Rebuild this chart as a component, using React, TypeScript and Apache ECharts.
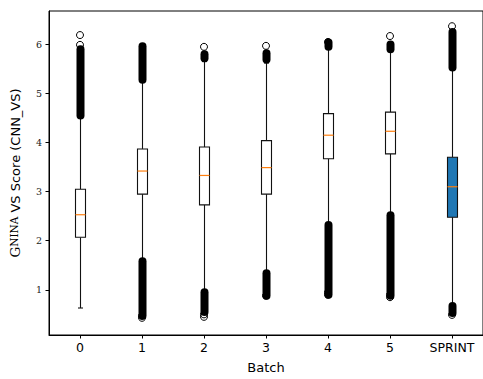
import React, { useEffect, useRef } from 'react';
import * as echarts from 'echarts';

// Categories (batches)
const categories = ['0', '1', '2', '3', '4', '5', 'SPRINT'];

// Box statistics
const whiskerLow = [0.63, 1.6, 0.98, 1.38, 2.37, 2.55, 0.7];
const quartile1 = [2.07, 2.95, 2.73, 2.95, 3.67, 3.77, 2.48];
const medians = [2.53, 3.42, 3.33, 3.49, 4.15, 4.23, 3.1];
const quartile3 = [3.05, 3.87, 3.91, 4.04, 4.59, 4.62, 3.7];
const whiskerHigh = [4.5, 5.25, 5.65, 5.62, 5.93, 5.88, 5.5];

// Dense runs of outliers (too many to tell apart): [from, to] per category, null when none
const denseLowOutliers: ([number, number] | null)[] = [
  null, [0.47, 1.58], [0.55, 0.95], [0.88, 1.34], [0.9, 2.32], [0.88, 2.52], [0.53, 0.67],
];
const denseHighOutliers: ([number, number] | null)[] = [
  [4.55, 5.9], [5.28, 5.96], [5.72, 5.8], [5.69, 5.82], [5.95, 6.04], [5.9, 6.0], [5.53, 6.25],
];

// Individually visible outliers: [category index, value]
const singleOutliers: [number, number][] = [
  [0, 6.19], [0, 5.99],
  [1, 0.43], [1, 0.47],
  [2, 5.95], [2, 0.5], [2, 0.45],
  [3, 5.97], [3, 0.88],
  [4, 6.05], [4, 0.9], [4, 0.95],
  [5, 6.17], [5, 0.85], [5, 0.9],
  [6, 6.37], [6, 0.49],
];

const yTicks = [1, 2, 3, 4, 5, 6];

export default function App() {
  const ref = useRef<HTMLDivElement>(null);

  useEffect(() => {
    if (!ref.current) return;
    const chart = echarts.init(ref.current, null, { renderer: 'svg' });

    const boxData = categories.map((_, i) => [
      i, whiskerLow[i], quartile1[i], medians[i], quartile3[i], whiskerHigh[i],
    ]);
    const denseData: number[][] = [];
    categories.forEach((_, i) => {
      const lo = denseLowOutliers[i];
      const hi = denseHighOutliers[i];
      if (lo) denseData.push([i, lo[0], lo[1]]);
      if (hi) denseData.push([i, hi[0], hi[1]]);
    });

    const snap = (v: number) => Math.round(v - 0.5) + 0.5;

    const renderBox = (params: any, api: any) => {
      const i = api.value(0);
      const lo = api.coord([i, api.value(1)]);
      const b1 = api.coord([i, api.value(2)]);
      const md = api.coord([i, api.value(3)]);
      const b3 = api.coord([i, api.value(4)]);
      const hi = api.coord([i, api.value(5)]);
      const band = api.size([1, 0])[0];
      const w = Math.round(band * 0.16);
      const cw = w / 2;
      const x = snap(lo[0]);
      const fill = categories[i] === 'SPRINT' ? '#1f77b4' : '#ffffff';
      const ls = { stroke: '#111', lineWidth: 1.1, fill: null };
      return {
        type: 'group',
        children: [
          { type: 'line', shape: { x1: x, y1: lo[1], x2: x, y2: b1[1] }, style: ls },
          { type: 'line', shape: { x1: x, y1: b3[1], x2: x, y2: hi[1] }, style: ls },
          { type: 'line', shape: { x1: x - cw / 2, y1: lo[1], x2: x + cw / 2, y2: lo[1] }, style: ls },
          { type: 'line', shape: { x1: x - cw / 2, y1: hi[1], x2: x + cw / 2, y2: hi[1] }, style: ls },
          {
            type: 'rect',
            shape: { x: x - cw, y: b3[1], width: w, height: b1[1] - b3[1] },
            style: { fill, stroke: '#111', lineWidth: 1.1 },
          },
          {
            type: 'line',
            shape: { x1: x - cw, y1: md[1], x2: x + cw, y2: md[1] },
            style: { stroke: '#ff7f0e', lineWidth: 1.2 },
          },
        ],
      };
    };

    const renderDense = (params: any, api: any) => {
      const i = api.value(0);
      const a = api.coord([i, api.value(1)]);
      const b = api.coord([i, api.value(2)]);
      const r = 4;
      const x = snap(a[0]);
      return {
        type: 'rect',
        shape: { x: x - r, y: b[1] - r, width: 2 * r, height: a[1] - b[1] + 2 * r, r },
        style: { fill: '#000' },
      };
    };

    chart.setOption({
      animation: false,
      grid: {
        left: 48, right: -4, top: 11, bottom: 40,
        show: true, borderColor: '#000', borderWidth: 1, backgroundColor: 'transparent',
      },
      xAxis: {
        type: 'category',
        data: categories,
        boundaryGap: true,
        name: 'Batch',
        nameLocation: 'middle',
        nameGap: 26,
        nameTextStyle: { fontFamily: 'DejaVu Sans', fontSize: 13, color: '#000' },
        axisLine: { show: true, lineStyle: { color: '#000', width: 1 } },
        axisTick: { show: true, alignWithLabel: true, length: 3.5, lineStyle: { color: '#000' } },
        axisLabel: { margin: 6, fontFamily: 'DejaVu Sans', fontSize: 12.5, color: '#000' },
        splitLine: { show: false },
      },
      yAxis: {
        type: 'value',
        min: 0.08,
        max: 6.68,
        name: '{g|G}{s|NINA}{t| VS Score (CNN_VS)}',
        nameLocation: 'middle',
        nameGap: 27,
        nameRotate: 90,
        nameTextStyle: {
          color: '#000',
          fontFamily: 'DejaVu Sans',
          fontSize: 13,
          rich: {
            g: { fontFamily: 'DejaVu Serif', fontSize: 13.5, color: '#000', verticalAlign: 'bottom', lineHeight: 16 },
            s: { fontFamily: 'DejaVu Serif', fontSize: 10.5, color: '#000', verticalAlign: 'bottom', lineHeight: 16, padding: [0, 0, 2.5, 0] },
            t: { fontFamily: 'DejaVu Sans', fontSize: 13, color: '#000', verticalAlign: 'bottom', lineHeight: 16 },
          },
        },
        axisLine: { show: true, lineStyle: { color: '#000', width: 1 } },
        axisTick: { show: true, length: 3.5, customValues: yTicks, lineStyle: { color: '#000' } },
        axisLabel: {
          customValues: yTicks,
          margin: 7,
          fontFamily: 'DejaVu Serif',
          fontSize: 9.5,
          color: '#222',
        },
        splitLine: { show: false },
      },
      series: [
        {
          type: 'custom',
          renderItem: renderBox,
          data: boxData,
          encode: { x: 0, y: [1, 2, 3, 4, 5] },
          z: 2,
        },
        {
          type: 'custom',
          renderItem: renderDense,
          data: denseData,
          encode: { x: 0, y: [1, 2] },
          z: 3,
        },
        {
          type: 'scatter',
          data: singleOutliers,
          symbol: 'circle',
          symbolSize: 7,
          itemStyle: { color: 'rgba(0,0,0,0)', borderColor: '#000', borderWidth: 1, opacity: 1 },
          z: 4,
        },
      ],
    });

    return () => chart.dispose();
  }, []);

  return (
    <div
      ref={ref}
      style={{ position: 'absolute', left: 0, top: 0, width: 483, height: 379 }}
    />
  );
}
